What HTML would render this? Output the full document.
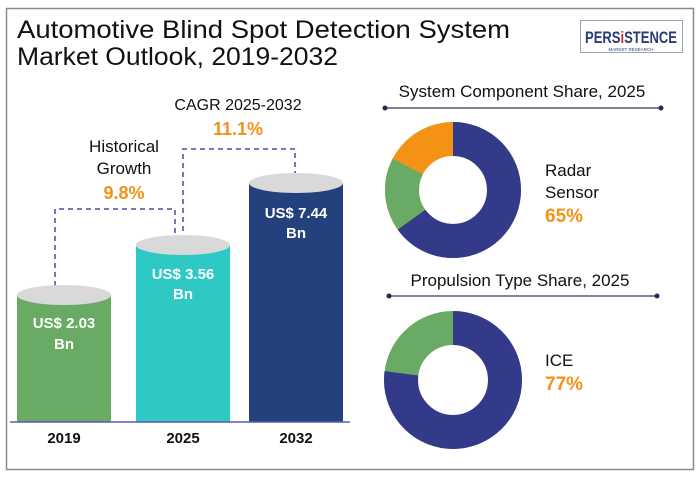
<!DOCTYPE html>
<html><head><meta charset="utf-8"><style>
body{margin:0;background:#fff;}
svg{display:block;font-family:"Liberation Sans",sans-serif;}
</style></head><body>
<svg width="700" height="477" viewBox="0 0 700 477">
<rect x="0" y="0" width="700" height="477" fill="#fff"/>
<rect x="6.5" y="8.5" width="687" height="461" fill="none" stroke="#8a8a8a" stroke-width="1.5"/>
<text x="17" y="38" font-size="25" fill="#111" textLength="493" lengthAdjust="spacingAndGlyphs">Automotive Blind Spot Detection System</text>
<text x="17" y="65" font-size="25" fill="#111" textLength="321" lengthAdjust="spacingAndGlyphs">Market Outlook, 2019-2032</text>
<!-- logo -->
<rect x="580.5" y="20.5" width="102" height="32" fill="#fff" stroke="#9aa3b8"/>
<text x="631" y="43" font-size="17" text-anchor="middle" fill="#2b3a78" font-weight="bold" textLength="92" lengthAdjust="spacingAndGlyphs">PERS<tspan fill="#d8232a">i</tspan>STENCE</text>
<text x="631" y="51" font-size="4.5" text-anchor="middle" fill="#2b3a78">MARKET RESEARCH</text>
<!-- dashed connectors -->
<g stroke="#4a4aa8" stroke-width="1.5" stroke-dasharray="5,4" fill="none">
<path d="M55 295 V209 H175 V240"/>
<path d="M183 240 V149 H295 V178"/>
</g>
<text x="124" y="152" font-size="17" text-anchor="middle" fill="#111">Historical</text>
<text x="124" y="174" font-size="17" text-anchor="middle" fill="#111">Growth</text>
<text x="124" y="199" font-size="18" font-weight="bold" text-anchor="middle" fill="#f39214">9.8%</text>
<text x="238" y="110" font-size="16" text-anchor="middle" fill="#111">CAGR 2025-2032</text>
<text x="238" y="135" font-size="18" font-weight="bold" text-anchor="middle" fill="#f39214">11.1%</text>
<!-- bars -->
<rect x="17" y="295" width="94" height="127" fill="#69ab64"/>
<ellipse cx="64" cy="295" rx="47" ry="10" fill="#d9d9d9"/>
<rect x="136" y="245" width="94" height="177" fill="#2ec9c5"/>
<ellipse cx="183" cy="245" rx="47" ry="10" fill="#d9d9d9"/>
<rect x="249" y="183" width="94" height="239" fill="#23417c"/>
<ellipse cx="296" cy="183" rx="47" ry="10" fill="#d9d9d9"/>
<line x1="10" y1="422" x2="350" y2="422" stroke="#5a5aa8" stroke-width="1.5"/>
<g font-weight="bold" fill="#fff" font-size="15" text-anchor="middle">
<text x="64" y="328">US$ 2.03</text><text x="64" y="349">Bn</text>
<text x="183" y="279">US$ 3.56</text><text x="183" y="299">Bn</text>
<text x="296" y="218">US$ 7.44</text><text x="296" y="238">Bn</text>
</g>
<g font-weight="bold" fill="#111" font-size="15" text-anchor="middle">
<text x="64" y="443">2019</text><text x="183" y="443">2025</text><text x="296" y="443">2032</text>
</g>
<!-- donut 1 -->
<text x="522" y="97" font-size="17" text-anchor="middle" fill="#111">System Component Share, 2025</text>
<line x1="385" y1="108" x2="661" y2="108" stroke="#555a70" stroke-width="1.5"/>
<circle cx="385" cy="108" r="2.5" fill="#222a55"/><circle cx="661" cy="108" r="2.5" fill="#222a55"/>
<g transform="rotate(-90 453 190)" fill="none" stroke-width="34">
<circle cx="453" cy="190" r="51" stroke="#f39214"/>
<circle cx="453" cy="190" r="51" stroke="#69ab64" stroke-dasharray="264.4 400"/>
<circle cx="453" cy="190" r="51" stroke="#333a8a" stroke-dasharray="208.3 400"/>
</g>
<text x="545" y="176" font-size="17" fill="#111">Radar</text>
<text x="545" y="198" font-size="17" fill="#111">Sensor</text>
<text x="545" y="222" font-size="19" font-weight="bold" fill="#f39214">65%</text>
<!-- donut 2 -->
<text x="520" y="286" font-size="17" text-anchor="middle" fill="#111">Propulsion Type Share, 2025</text>
<line x1="389" y1="296" x2="657" y2="296" stroke="#555a70" stroke-width="1.5"/>
<circle cx="389" cy="296" r="2.5" fill="#222a55"/><circle cx="657" cy="296" r="2.5" fill="#222a55"/>
<g transform="rotate(-90 453 380)" fill="none" stroke-width="34">
<circle cx="453" cy="380" r="52" stroke="#69ab64"/>
<circle cx="453" cy="380" r="52" stroke="#333a8a" stroke-dasharray="251.6 400"/>
</g>
<text x="545" y="366" font-size="17" fill="#111">ICE</text>
<text x="545" y="390" font-size="19" font-weight="bold" fill="#f39214">77%</text>
</svg>
</body></html>
